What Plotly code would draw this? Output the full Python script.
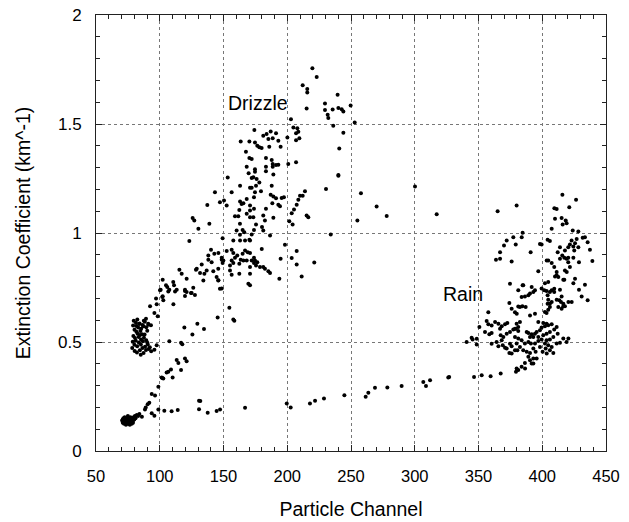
import plotly.graph_objects as go

# ---- data (Particle Channel, Extinction Coefficient) ----
low_cluster = [(70.5,0.14),(71,0.13),(71.5,0.15),(72,0.14),(72,0.125),(72.5,0.155),(73,0.135),(73,0.145),
               (73.5,0.12),(74,0.15),(74,0.13),(74.5,0.14),(75,0.16),(75,0.125),(75.5,0.145),(76,0.135),
               (76,0.15),(76.5,0.12),(77,0.14),(77,0.155),(77.5,0.13),(78,0.145),(78,0.135),(78.5,0.15),
               (79,0.14),(79.5,0.155),(80,0.145),(80.5,0.16),(81,0.15),(71,0.145),(74,0.14),(76,0.14),
               (78,0.125),(72.5,0.135),(75,0.135),(79,0.13),(82,0.165),(83,0.16),(84,0.17)]

trail = [(86,0.157),(88.4,0.19),(89,0.2),(90.5,0.215),(91.8,0.221),(93.7,0.261),(96.3,0.255),(98.9,0.295),
         (93.7,0.173),(95.8,0.162),(98.9,0.19),(103.6,0.185),(109.3,0.182),(114.1,0.188),(130.8,0.23),
         (131.8,0.229),(130.8,0.192),(137.6,0.176),(144.6,0.184),(147.3,0.19),(166.9,0.198),(199.6,0.218),
         (202.7,0.2),(217.8,0.218),(221.8,0.23),(228.8,0.241),(244.8,0.256),(261.5,0.249),(263.6,0.267),
         (268.8,0.29),(278.5,0.291),(289.7,0.298),(306.7,0.317),(308.8,0.298),(312,0.325),(326.3,0.337),
         (327,0.34),(346.5,0.34),(352.5,0.348),(359.5,0.343),(367.4,0.356),(379.4,0.363),(381.2,0.371),
         (386.5,0.378)]

branches = [(101.5,0.337),(102.8,0.333),(106.7,0.363),(108.8,0.374),(110.1,0.337),(113.3,0.417),(114.6,0.404),
            (116.7,0.371),(119.8,0.424),(121.1,0.412),(102,0.335),(105.4,0.36),
            (107.5,0.504),(116.7,0.497),(117.7,0.49),(119.3,0.566),(125.6,0.534),(129.5,0.584),(134.7,0.56),
            (145.4,0.612),(154.6,0.657),(157.7,0.603),(158.5,0.597)]

cluster_85 = [(79.6,0.597),(81.3,0.588),(82.4,0.603),(84.2,0.585),(86.5,0.578),(88.3,0.593),(83.1,0.566),
              (85.4,0.561),(87.2,0.572),(80.2,0.556),(81.7,0.547),(82.6,0.538),(84.8,0.551),(86.1,0.536),
              (79.3,0.527),(80.6,0.518),(81.2,0.506),(83.5,0.523),(85.3,0.512),(87.6,0.519),(89.4,0.508),
              (90.3,0.497),(78.8,0.501),(80.1,0.487),(82.3,0.481),(83.6,0.498),(85.2,0.489),(86.4,0.472),
              (88.5,0.478),(90.6,0.488),(92.2,0.476),(78.4,0.472),(80.3,0.459),(82.1,0.452),(84.4,0.462),
              (85.1,0.441),(87.3,0.449),(89.2,0.463),(91.4,0.468),(93.3,0.458),(81.6,0.573),(83.8,0.582),
              (79.1,0.576),(84.5,0.532),(86.7,0.503),(88.1,0.534),(90.2,0.552),(87.5,0.598),(89.4,0.568),
              (91.1,0.579)]

drizzle_low = [(89.2,0.607),(91,0.584),(93.1,0.577),(92.4,0.664),(97.6,0.673),(95.8,0.633),(98.4,0.618),
               (95.8,0.465),(97.6,0.485),(100.2,0.737),(106.7,0.732),(112,0.732),(119.8,0.734),(124.5,0.725),
               (127.6,0.716),(102,0.706),(102.8,0.691),(110.7,0.673),(119.8,0.711),(97.1,0.699),(102.3,0.71),
               (100.7,0.74),(102.3,0.786),(104.9,0.76),(105.9,0.752),(107.5,0.74),(110.6,0.775),(111.2,0.76),
               (113.3,0.74),(119.8,0.74),(121.1,0.729),(125,0.725),(126.3,0.749),(115.4,0.831),(117.2,0.813),
               (121.1,0.79),(129,0.836),(148.6,0.745),(146,0.783),(144.6,0.798),(145.9,0.782),(147.2,0.744),
               (155.1,0.828),(156.4,0.808),(155.1,0.851),(162.4,0.813)]

drizzle_mid = [(153.3,1.255),(163,1.217),(170.8,1.207),(175.5,1.217),(174.7,1.187),(143.3,1.187),(156.4,1.187),
               (147.2,1.141),(150.4,1.149),(152.5,1.126),(137.3,1.129),(163,1.144),(165.6,1.136),(168.2,1.156),
               (170.8,1.126),(173.9,1.164),(162.4,1.106),(168.2,1.088),(170.8,1.103),(159,1.077),(161.6,1.077),
               (173.4,1.072),(125.8,1.069),(127.1,1.057),(130.3,1.019),(138.9,1.042),(175.5,1.039),(165,1.014),
               (166.3,1.004),(162.9,0.992),(166.9,0.966),(170.3,0.969),(123.2,0.963),(149.3,0.976),
               (157.7,0.966),(163,0.966),(140.2,0.923),(138.1,0.897),(142.8,0.905),(146,0.908),(148.6,0.886),
               (152.5,0.917),(156.4,0.923),(157.7,0.908),(160.8,0.897),(165,0.905),(166.9,0.92),(169,0.912),
               (132.9,0.856),(138.1,0.877),(140.7,0.866),(136.8,0.828),(142,0.824),(145.9,0.836),(148.6,0.877),
               (149.9,0.874),(149.3,0.862),(156.4,0.874),(157.7,0.862),(159,0.886),(163.5,0.877),(165.6,0.874),
               (168.2,0.874),(128.4,0.831),(131.6,0.816),(135,0.813),(134.2,0.782),(162.4,0.859),(170.8,0.844),
               (169.7,1.274),(164.2,1.133),(160.3,1.011),(162.9,1.042),
               (174.7,1.281),(183.3,1.283),(189.1,1.268),(172.1,1.252),(178.1,1.232),(187.8,1.217),(172.1,1.207),
               (179.4,1.191),(187,1.176),(189.1,1.167),(191.2,1.159),(195.6,1.161),(197.4,1.164),(188.3,1.136),
               (193,1.13),(194.3,1.123),(173.9,1.111),(183.3,1.111),(181.2,1.08),(189.1,1.07),(170.8,1.072),
               (182.5,1.057),(180.2,1.027),(173.9,1.014),(172.1,0.993),(170.8,0.966),(186.5,0.988),(181.2,1.011),
               (240.1,1.263),(230.4,1.202),(210,1.171),(212.1,1.171),(213.9,1.191),(208.7,1.152),(207.4,1.13),
               (205.3,1.108),(203.5,1.091),(215.2,1.08),(216.5,1.072),(201.6,1.054),(204.2,1.039),(255,1.057),
               (234.1,0.993),(180,0.927),(170.8,0.908),(173.9,0.886),(174.7,0.874),(172.1,0.874),(173.9,0.862),
               (176.5,0.866),(175.5,0.851),(178.6,0.844),(181.2,0.844),(182.5,0.836),(185.2,0.825),(186.5,0.816),
               (193.8,0.79),(170.8,0.813),(170.8,0.76),(198.2,0.946),(207.4,0.917),(203.5,0.885),(194.8,0.882),
               (207.4,0.856),(221.2,0.865),(211.3,0.801),(169.5,0.767)]

drizzle_high = [(219.7,1.756),(223.1,1.716),(212.1,1.678),(215.7,1.66),(215.7,1.644),(215.2,1.571),(202.9,1.522),
                (200.1,1.438),(204.8,1.484),(207.9,1.481),(209.5,1.435),(206.9,1.457),(208.7,1.464),(206.9,1.426),
                (174.2,1.472),(163.5,1.42),(170.3,1.42),(174.7,1.415),(176.5,1.4),(178.1,1.393),(179.9,1.39),
                (181.2,1.446),(183.8,1.454),(187,1.466),(191.2,1.457),(185.2,1.431),(188.6,1.435),(185.9,1.396),
                (193,1.423),(194.8,1.396),(167.6,1.373),(170.3,1.344),(172.1,1.339),(183.3,1.344),(187.8,1.335),
                (188.6,1.316),(191.2,1.312),(193,1.313),(188.6,1.304),(168.2,1.304),(174.7,1.293),(183.3,1.304),
                (200.8,1.316),(206.9,1.324),(173.4,1.256),(176,1.248),
                (229.6,1.594),(229.6,1.564),(231.7,1.542),(232.2,1.527),(235.6,1.567),(236.1,1.492),(239.5,1.634),
                (240.1,1.573),(242.7,1.568),(244,1.557),(249.7,1.585),(252.9,1.507),(244,1.46),(240.8,1.388),
                (240.1,1.266),(257.8,1.182),(270.1,1.121),(278,1.078),(300.2,1.213),(317.2,1.086)]

rain_upper = [(365,1.1),(379.9,1.126),(409.5,1.114),(411.3,1.11),(415.8,1.175),(421.2,1.118),(426.5,1.153),
              (410,1.065),(415.2,1.069),(418.4,1.057),(416,1.039),(398.2,0.95),(399.5,0.947),(390.9,0.912),
              (384.6,1.001),(383.9,0.981),(377.3,0.981),(379.2,0.947),(372.1,0.966),(370,0.943),(366.9,0.912),
              (366.9,0.882),(363.7,0.877),(403.5,0.874),(376,0.869),(419.1,1.045),(407.4,1.019),(404.2,0.969),
              (406,0.963),(428.3,1.007),(433.5,0.981),(435.6,0.958),(427,0.973),(423,0.966),(425.7,0.953),
              (421.7,0.947),(420.4,0.935),(425.1,0.92),(428.3,0.935),(417.8,0.92),(413.9,0.935),(412.1,0.912),
              (415.7,0.897),(417.3,0.886),(420.4,0.886),(420.4,0.866),(419.1,0.882),(424.4,0.886),(428.8,0.866),
              (437.4,0.923),(439.3,0.871),(404.7,0.874),(407.4,0.862),(413.9,0.882),(409.4,0.844),(411.3,0.821),
              (417.8,0.828),(421.7,0.844),(410,0.801),(417.3,0.786),(396.9,0.824),(402.1,0.77),(404.7,0.775),
              (409.4,0.744),(413.9,0.74),(424.4,0.77),(428.8,0.74),(433.5,0.763),(430.9,0.709),(435.6,0.691),
              (425.7,0.79),(423.9,1.011),(431.7,0.978),(424.4,0.938)]

rain_mid = [(374.7,0.767),(381.2,0.737),(384.6,0.76),(411.3,0.806),(412.6,0.798),(416.5,0.786),(419.2,0.821),
            (374.2,0.679),(376,0.653),(378.6,0.637),(380,0.63),(381.2,0.663),(357.7,0.637),(420.5,0.684),
            (423.1,0.684),(385.1,0.76),(391.7,0.752),(390.4,0.722),(389.1,0.714),(393,0.729),(394.3,0.737),
            (383.8,0.706),(386.4,0.709),(382.5,0.661),(384.4,0.664),(387,0.661),(390.4,0.622),(394.3,0.63),
            (399.5,0.745),(401.6,0.737),(403.4,0.734),(406,0.729),(407.4,0.737),(409.4,0.729),(404.2,0.714),
            (404.7,0.694),(404.2,0.676),(406,0.676),(407.4,0.683),(411.3,0.694),(413.4,0.691),(415.2,0.709),
            (414.7,0.683),(416.5,0.676),(417.8,0.664),(412.6,0.661),(415.2,0.653),(416.5,0.664),(403.4,0.633),
            (404.7,0.648),(406,0.661),(402.1,0.638)]

rain_low = [(356.4,0.596),(357.7,0.581),(360.3,0.576),(363,0.592),(365.6,0.584),(368.2,0.572),(370.8,0.581),
            (372.6,0.587),(366.9,0.561),(367.4,0.531),(369.5,0.523),(372.1,0.538),(374.7,0.546),(377.3,0.557),
            (379.4,0.561),(381.2,0.569),(350.7,0.569),(355.1,0.546),(360.3,0.541),(358.5,0.535),(344.6,0.52),
            (348.6,0.515),(345.4,0.511),(340.7,0.5),(348.6,0.489),(360.3,0.492),(364.2,0.5),(365.6,0.48),
            (368.2,0.508),(369,0.485),(370.8,0.474),(374.7,0.492),(376,0.48),(378.6,0.462),(380.5,0.462),
            (372.1,0.47),(374.2,0.45),(376,0.447),
            (396.9,0.592),(400.8,0.587),(403.4,0.584),(404.7,0.577),(407.4,0.581),(402.1,0.572),(399.5,0.566),
            (398.2,0.554),(395.6,0.546),(394.3,0.538),(391.7,0.535),(389.1,0.541),(387.8,0.546),(390.4,0.523),
            (393,0.523),(396.9,0.523),(400.8,0.531),(403.4,0.538),(406,0.546),(409.4,0.557),(411.3,0.569),
            (412.1,0.538),(408.7,0.523),(406,0.511),(403.4,0.508),(402.1,0.493),(399.5,0.511),(396.9,0.505),
            (394.3,0.493),(391.1,0.493),(389.1,0.5),(386.4,0.493),(383.8,0.508),(381.2,0.516),(379.9,0.493),
            (382.5,0.477),(385.1,0.462),(387.8,0.455),(390.4,0.45),(393,0.47),(389.1,0.432),(390.4,0.416),
            (386.4,0.404),(393,0.424),(395.6,0.424),(391.7,0.401),(383.8,0.386),(379.9,0.378),(404.7,0.485),
            (408.7,0.45),(411.3,0.493),(413.9,0.496),(416.5,0.516),(419.1,0.5),(407.4,0.477),(406,0.462),
            (402.7,0.47),(398.2,0.477),(394.8,0.455),(378.6,0.561),(381.2,0.551),(379.9,0.584),(378.6,0.523),
            (382.5,0.592),(393,0.401),(400.3,0.455),(403.5,0.447),(420.5,0.516)]

x_ticks = [50, 100, 150, 200, 250, 300, 350, 400, 450]
y_ticks = [0, 0.5, 1, 1.5, 2]
y_tick_labels = ["0", "0.5", "1", "1.5", "2"]

groups = [low_cluster, trail, branches, cluster_85, drizzle_low, drizzle_mid, drizzle_high,
          rain_upper, rain_mid, rain_low]

fig = go.Figure()
for g in groups:
    fig.add_trace(go.Scatter(x=[p[0] for p in g], y=[p[1] for p in g], mode="markers",
                             marker=dict(color="black", size=4, line=dict(width=0)),
                             hoverinfo="skip"))

axis_common = dict(showline=True, linecolor="#222", linewidth=1, mirror="ticks",
                   ticks="inside", ticklen=6, tickcolor="#222",
                   showgrid=True, gridcolor="#777", gridwidth=1, griddash="dot",
                   zeroline=False, automargin=False)

fig.update_layout(
    width=629, height=522,
    margin=dict(l=96, r=23, t=15, b=71),
    plot_bgcolor="white", paper_bgcolor="white",
    showlegend=False,
    font=dict(family="Liberation Sans, Arial, sans-serif", color="black"),
    xaxis=dict(range=[50, 450], tickvals=x_ticks, ticklabelstandoff=10,
               tickfont=dict(size=16.5, color="black"),
               minor=dict(ticks="inside", ticklen=4, dtick=10, tickcolor="#222", showgrid=False),
               title=dict(text="Particle Channel", font=dict(size=19.5), standoff=18),
               **axis_common),
    yaxis=dict(range=[0, 2], tickvals=y_ticks, ticktext=y_tick_labels, ticklabelstandoff=10,
               tickfont=dict(size=17, color="black"),
               minor=dict(ticks="inside", ticklen=4, dtick=0.1, tickcolor="#222", showgrid=False),
               title=dict(text="Extinction Coefficient (km^-1)", font=dict(size=19.5), standoff=22),
               **axis_common),
    annotations=[
        dict(x=177, y=1.597, text="Drizzle", showarrow=False, font=dict(size=19.5)),
        dict(x=338, y=0.718, text="Rain", showarrow=False, font=dict(size=19.5)),
    ],
)

fig.write_html("out.html")
